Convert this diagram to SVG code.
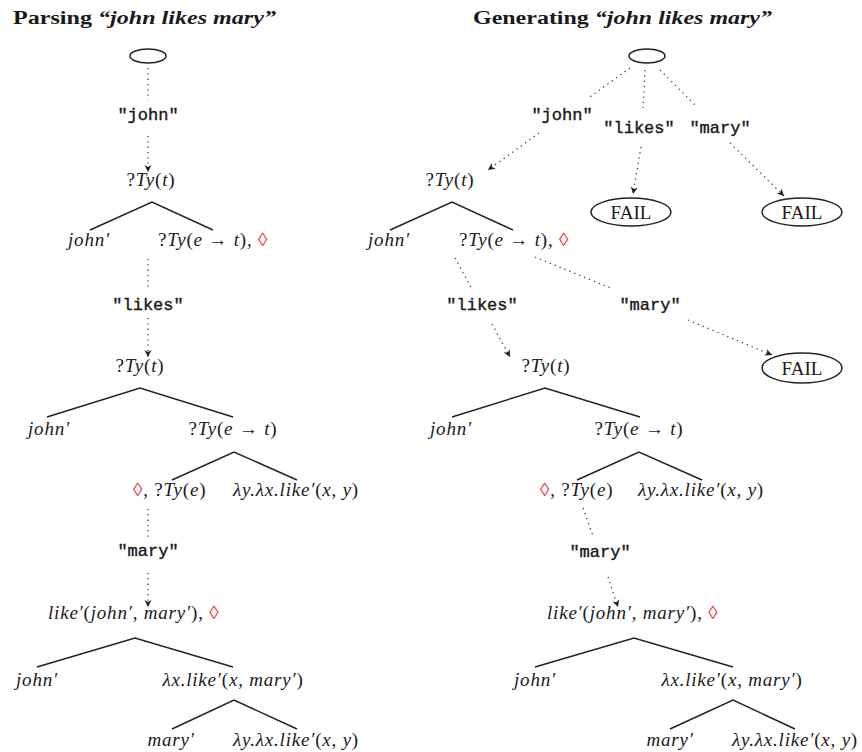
<svg xmlns="http://www.w3.org/2000/svg" width="862" height="752" viewBox="0 0 862 752">
<defs>
<style>
.m{font-family:"Liberation Serif",serif;font-style:italic;font-size:19px;fill:#1a1a1a;letter-spacing:0.8px}
.r{font-style:normal}
.d{fill:#ee3344;font-style:normal}
.tt{font-family:"Liberation Mono",monospace;font-size:17px;fill:#1a1a1a;stroke:#1a1a1a;stroke-width:0.4;text-anchor:middle}
.fail{font-family:"Liberation Serif",serif;font-size:19px;fill:#1a1a1a;text-anchor:middle}
.title{font-family:"Liberation Serif",serif;font-weight:bold;font-size:18px;fill:#1a1a1a}
.c{text-anchor:middle}
.edge{stroke:#222;stroke-width:1.5;fill:none}
.dot{stroke:#444;stroke-width:1.3;stroke-dasharray:1.3 4;fill:none}
.arr{marker-end:url(#ah)}
.ell{stroke:#222;stroke-width:1.5;fill:#fff}
</style>
<marker id="ah" viewBox="-8 -4 9 8" refX="0" refY="0" markerWidth="9" markerHeight="8" markerUnits="userSpaceOnUse" orient="auto">
<path d="M-7,-3.5 L0,0 L-7,3.5 L-5,0 z" fill="#222"/>
</marker>
</defs>
<rect width="862" height="752" fill="#fff"/>

<g id="titles">
<text class="title" x="13" y="24" textLength="263" lengthAdjust="spacingAndGlyphs">Parsing <tspan font-style="italic">“john likes mary”</tspan></text>
<text class="title" x="473" y="24" textLength="299" lengthAdjust="spacingAndGlyphs">Generating <tspan font-style="italic">“john likes mary”</tspan></text>
</g>

<g id="connectors">
<!-- left: dotted word transitions -->
<line class="dot" x1="148" y1="68" x2="148" y2="100"/>
<line class="dot arr" x1="148" y1="136" x2="148" y2="172"/>
<line class="dot" x1="148" y1="259" x2="148" y2="288"/>
<line class="dot arr" x1="148" y1="318" x2="148" y2="357"/>
<line class="dot" x1="148" y1="509" x2="148" y2="537"/>
<line class="dot arr" x1="148" y1="573" x2="148" y2="607"/>
<!-- left: tree edges -->
<polyline class="edge" points="90,230 152,202 213,230"/>
<polyline class="edge" points="47,417 140,388 233,417"/>
<polyline class="edge" points="172,480 234,452 297,480"/>
<polyline class="edge" points="37,667 135,638 233,667"/>
<polyline class="edge" points="172,729 234,700 297,729"/>
<!-- right: dotted word transitions -->
<line class="dot" x1="630" y1="68" x2="587" y2="99"/>
<line class="dot arr" x1="539" y1="133" x2="488" y2="170"/>
<line class="dot" x1="645" y1="70" x2="643" y2="108"/>
<line class="dot arr" x1="641" y1="147" x2="633" y2="194"/>
<line class="dot" x1="660" y1="70" x2="697" y2="107"/>
<line class="dot arr" x1="730" y1="143" x2="784" y2="196"/>
<line class="dot" x1="455" y1="258" x2="472" y2="289"/>
<line class="dot arr" x1="492" y1="324" x2="510" y2="357"/>
<line class="dot" x1="535" y1="257" x2="613" y2="289"/>
<line class="dot arr" x1="688" y1="320" x2="772" y2="355"/>
<line class="dot" x1="583" y1="508" x2="593" y2="536"/>
<line class="dot arr" x1="608" y1="577" x2="618" y2="607"/>
<!-- right: tree edges -->
<polyline class="edge" points="390,230 452,202 513,230"/>
<polyline class="edge" points="452,417 545,388 640,417"/>
<polyline class="edge" points="577,480 639,452 702,480"/>
<polyline class="edge" points="535,667 634,638 733,667"/>
<polyline class="edge" points="670,729 733,700 795,729"/>
</g>

<!-- ===== Left: parsing ===== -->
<g id="p-start"><ellipse class="ell" cx="148" cy="56" rx="18" ry="7"/></g>
<g id="p-w-john"><text class="tt" x="148" y="120">"john"</text></g>
<g id="p-t1-root"><text class="m c" x="151" y="186"><tspan class="r">?</tspan>Ty<tspan class="r">(</tspan>t<tspan class="r">)</tspan></text></g>
<g id="p-t1-john"><text class="m c" x="89" y="246">john′</text></g>
<g id="p-t1-pred"><text class="m" x="158" y="246"><tspan class="r">?</tspan>Ty<tspan class="r">(</tspan>e<tspan class="r"> → </tspan>t<tspan class="r">), </tspan><tspan class="d">◊</tspan></text></g>
<g id="p-w-likes"><text class="tt" x="148" y="310">"likes"</text></g>
<g id="p-t2-root"><text class="m c" x="140" y="372"><tspan class="r">?</tspan>Ty<tspan class="r">(</tspan>t<tspan class="r">)</tspan></text></g>
<g id="p-t2-john"><text class="m c" x="49" y="435">john′</text></g>
<g id="p-t2-pred"><text class="m c" x="233" y="435"><tspan class="r">?</tspan>Ty<tspan class="r">(</tspan>e<tspan class="r"> → </tspan>t<tspan class="r">)</tspan></text></g>
<g id="p-t2-obj"><text class="m" x="133" y="496"><tspan class="d">◊</tspan><tspan class="r">, ?</tspan>Ty<tspan class="r">(</tspan>e<tspan class="r">)</tspan></text></g>
<g id="p-t2-verb"><text class="m c" x="296" y="496">λy.λx.like′<tspan class="r">(</tspan>x<tspan class="r">, </tspan>y<tspan class="r">)</tspan></text></g>
<g id="p-w-mary"><text class="tt" x="148" y="556">"mary"</text></g>
<g id="p-t3-root"><text class="m" x="48" y="619">like′<tspan class="r">(</tspan>john′<tspan class="r">, </tspan>mary′<tspan class="r">), </tspan><tspan class="d">◊</tspan></text></g>
<g id="p-t3-john"><text class="m c" x="37" y="686">john′</text></g>
<g id="p-t3-pred"><text class="m c" x="233" y="686">λx.like′<tspan class="r">(</tspan>x<tspan class="r">, </tspan>mary′<tspan class="r">)</tspan></text></g>
<g id="p-t3-mary"><text class="m c" x="171" y="746">mary′</text></g>
<g id="p-t3-verb"><text class="m c" x="296" y="746">λy.λx.like′<tspan class="r">(</tspan>x<tspan class="r">, </tspan>y<tspan class="r">)</tspan></text></g>

<!-- ===== Right: generating ===== -->
<g id="g-start"><ellipse class="ell" cx="647" cy="56" rx="18" ry="7"/></g>
<g id="g-w-john"><text class="tt" x="562" y="120">"john"</text></g>
<g id="g-w-likes1"><text class="tt" x="639" y="133">"likes"</text></g>
<g id="g-w-mary1"><text class="tt" x="720" y="133">"mary"</text></g>
<g id="g-fail1"><ellipse class="ell" cx="631" cy="212" rx="40" ry="14"/><text class="fail" x="631" y="219">FAIL</text></g>
<g id="g-fail2"><ellipse class="ell" cx="802" cy="212" rx="40" ry="14"/><text class="fail" x="802" y="219">FAIL</text></g>
<g id="g-t1-root"><text class="m c" x="450" y="186"><tspan class="r">?</tspan>Ty<tspan class="r">(</tspan>t<tspan class="r">)</tspan></text></g>
<g id="g-t1-john"><text class="m c" x="389" y="246">john′</text></g>
<g id="g-t1-pred"><text class="m" x="459" y="246"><tspan class="r">?</tspan>Ty<tspan class="r">(</tspan>e<tspan class="r"> → </tspan>t<tspan class="r">), </tspan><tspan class="d">◊</tspan></text></g>
<g id="g-w-likes2"><text class="tt" x="482" y="310">"likes"</text></g>
<g id="g-w-mary2"><text class="tt" x="650" y="310">"mary"</text></g>
<g id="g-fail3"><ellipse class="ell" cx="802" cy="368" rx="40" ry="15"/><text class="fail" x="802" y="375">FAIL</text></g>
<g id="g-t2-root"><text class="m c" x="546" y="372"><tspan class="r">?</tspan>Ty<tspan class="r">(</tspan>t<tspan class="r">)</tspan></text></g>
<g id="g-t2-john"><text class="m c" x="451" y="435">john′</text></g>
<g id="g-t2-pred"><text class="m c" x="639" y="435"><tspan class="r">?</tspan>Ty<tspan class="r">(</tspan>e<tspan class="r"> → </tspan>t<tspan class="r">)</tspan></text></g>
<g id="g-t2-obj"><text class="m" x="540" y="496"><tspan class="d">◊</tspan><tspan class="r">, ?</tspan>Ty<tspan class="r">(</tspan>e<tspan class="r">)</tspan></text></g>
<g id="g-t2-verb"><text class="m c" x="701" y="496">λy.λx.like′<tspan class="r">(</tspan>x<tspan class="r">, </tspan>y<tspan class="r">)</tspan></text></g>
<g id="g-w-mary3"><text class="tt" x="600" y="557">"mary"</text></g>
<g id="g-t3-root"><text class="m" x="547" y="619">like′<tspan class="r">(</tspan>john′<tspan class="r">, </tspan>mary′<tspan class="r">), </tspan><tspan class="d">◊</tspan></text></g>
<g id="g-t3-john"><text class="m c" x="535" y="686">john′</text></g>
<g id="g-t3-pred"><text class="m c" x="732" y="686">λx.like′<tspan class="r">(</tspan>x<tspan class="r">, </tspan>mary′<tspan class="r">)</tspan></text></g>
<g id="g-t3-mary"><text class="m c" x="670" y="746">mary′</text></g>
<g id="g-t3-verb"><text class="m c" x="795" y="746">λy.λx.like′<tspan class="r">(</tspan>x<tspan class="r">, </tspan>y<tspan class="r">)</tspan></text></g>
</svg>
